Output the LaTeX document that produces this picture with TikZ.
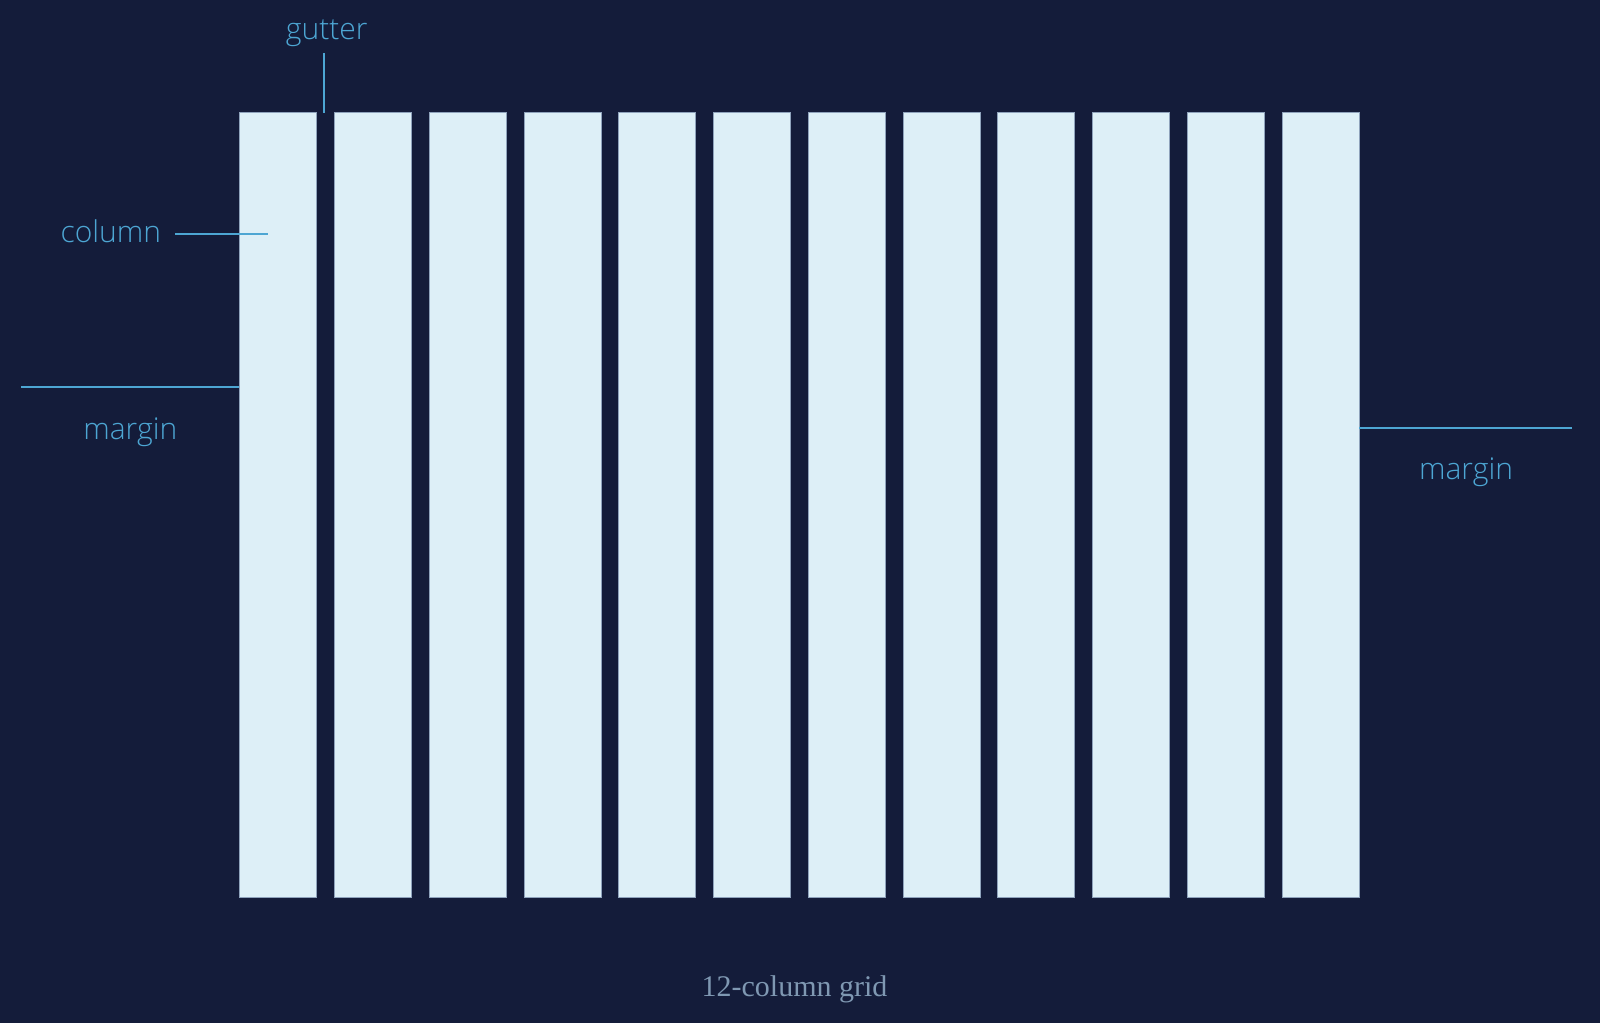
\documentclass[tikz,border=0pt]{standalone}
\usepackage{fontspec}
\setmainfont{Liberation Serif}
\newfontfamily\lblfont{Open Sans}[UprightFont=* Light]
\usetikzlibrary{positioning}
\definecolor{bgNavy}{HTML}{141C3A}
\definecolor{colFill}{HTML}{DDEFF7}
\definecolor{colEdge}{HTML}{8FA3BC}
\definecolor{labelBlue}{HTML}{4DA6D3}
\definecolor{captionGray}{HTML}{7F98B2}

\tikzset{
    colbox/.style={draw=colEdge, line width=0.8pt, fill=colFill, inner sep=0pt,
        minimum width=77pt, minimum height=785pt, anchor=north west},
    lbl/.style={text=labelBlue, inner sep=0pt, font=\lblfont\fontsize{30}{36}\selectfont},
    leader/.style={draw=labelBlue, line width=1.7pt}
}

\begin{document}
\begin{tikzpicture}[x=1pt, y=-1pt]
    \fill[bgNavy] (0,0) rectangle (1600,1023);
    \useasboundingbox (0,0) rectangle (1600,1023);
    % the twelve columns
    \foreach \i in {1,...,12}
        \node[colbox] (c\i) at ({239.3+(\i-1)*94.75}, 112.3) {};
    % gutter
    \node[lbl] (gutter) at (326.7, 33) {gutter};
    \coordinate (gtop) at (324.3, 53.3);
    \coordinate (gbot) at (324.3, 113);
    \draw[leader] (gtop) -- (gbot);
    % column
    \node[lbl] (column) at (110.8, 231) {column};
    \coordinate (cin) at (267.7, 233.7);
    \draw[leader] (column.east |- cin) ++(14,0) -- (cin);
    % left margin
    \coordinate (lmL) at (21.3, 387.3);
    \draw[leader] (lmL) -- (c1.west |- lmL);
    \node[lbl] (lmargin) at (130.3, 432) {margin};
    % right margin
    \coordinate (rmR) at (1572.3, 428.3);
    \draw[leader] (c12.east |- rmR) -- (rmR);
    \node[lbl] (rmargin) at (1466, 472) {margin};
    % caption
    \node[text=captionGray, font=\fontsize{30}{36}\selectfont] (caption) at (794.5, 989) {12-column grid};
\end{tikzpicture}
\end{document}
